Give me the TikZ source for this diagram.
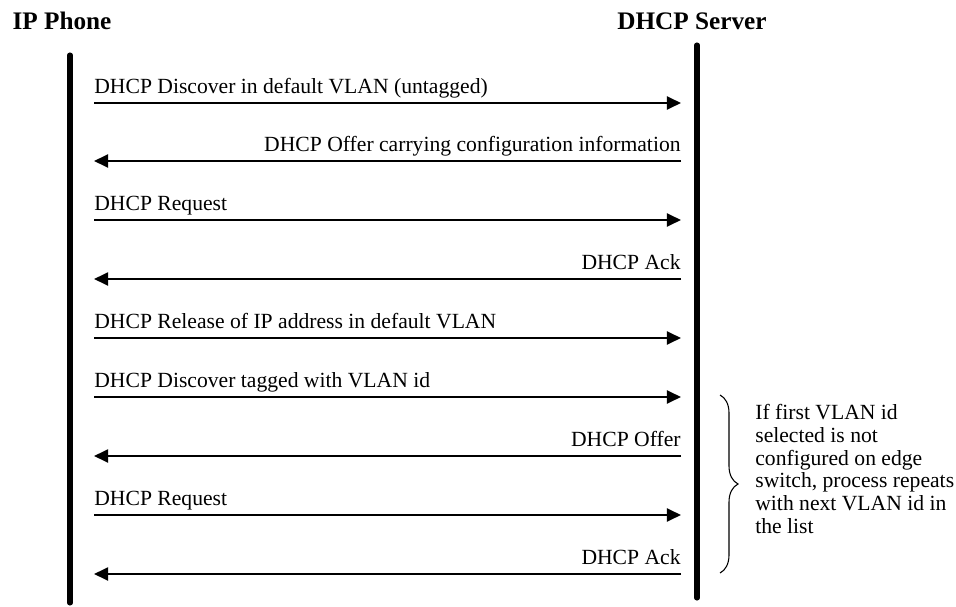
\documentclass[tikz,border=0pt]{standalone}
\usepackage{fontspec}
\setmainfont{Liberation Serif}
\usetikzlibrary{arrows.meta, decorations.pathreplacing}

\begin{document}
\begin{tikzpicture}[
    x=0.0195cm, y=-0.0195cm,
    head/.style={font=\fontsize{14}{16}\selectfont\bfseries, inner sep=0pt},
    lbl/.style={font=\fontsize{12}{14}\selectfont, inner sep=0pt},
    life/.style={line width=2.8pt, line cap=round},
    msg/.style={-{Triangle[length=7.8pt, width=7.2pt]}, line width=1.15pt},
    note/.style={font=\fontsize{12}{12.6}\selectfont, align=left, inner sep=0pt},
]
    \useasboundingbox (0,0) rectangle (956,607);

    % Headers
    \node[head] (phone) at (62,21) {IP Phone};
    \node[head] (server) at (692,21) {DHCP Server};

    % Lifelines
    \coordinate (phoneTop) at (70,55);
    \coordinate (phoneBot) at (70,603);
    \coordinate (serverTop) at (697,45);
    \coordinate (serverBot) at (697,598);
    \draw[life] (phoneTop) -- (phoneBot);
    \draw[life] (serverTop) -- (serverBot);

    % Message end points on both sides
    \foreach \i/\y in {1/103,2/161,3/220,4/279,5/338,6/397,7/456,8/515,9/574} {
        \coordinate (p\i) at (94,\y);
        \coordinate (s\i) at (681,\y);
    }

    % Messages
    \draw[msg] (p1) -- (s1);
    \node[lbl, anchor=base west] (m1) at ([yshift=5.5pt]p1) {DHCP Discover in default VLAN (untagged)};
    \draw[msg] (s2) -- (p2);
    \node[lbl, anchor=base east] (m2) at ([yshift=5.5pt]s2) {DHCP Offer carrying configuration information};
    \draw[msg] (p3) -- (s3);
    \node[lbl, anchor=base west] (m3) at ([yshift=5.5pt]p3) {DHCP Request};
    \draw[msg] (s4) -- (p4);
    \node[lbl, anchor=base east] (m4) at ([yshift=5.5pt]s4) {DHCP Ack};
    \draw[msg] (p5) -- (s5);
    \node[lbl, anchor=base west] (m5) at ([yshift=5.5pt]p5) {DHCP Release of IP address in default VLAN};
    \draw[msg] (p6) -- (s6);
    \node[lbl, anchor=base west] (m6) at ([yshift=5.5pt]p6) {DHCP Discover tagged with VLAN id};
    \draw[msg] (s7) -- (p7);
    \node[lbl, anchor=base east] (m7) at ([yshift=5.5pt]s7) {DHCP Offer};
    \draw[msg] (p8) -- (s8);
    \node[lbl, anchor=base west] (m8) at ([yshift=5.5pt]p8) {DHCP Request};
    \draw[msg] (s9) -- (p9);
    \node[lbl, anchor=base east] (m9) at ([yshift=5.5pt]s9) {DHCP Ack};

    % Brace over the tagged exchange
    \draw[line width=0.6pt, decorate, decoration={brace, amplitude=10pt}] (720,395) -- (720,573);
    \node[note, anchor=west] (repeat) at (755,469) {If first VLAN id\\selected is not\\configured on edge\\switch, process repeats\\with next VLAN id in\\the list};
\end{tikzpicture}
\end{document}
